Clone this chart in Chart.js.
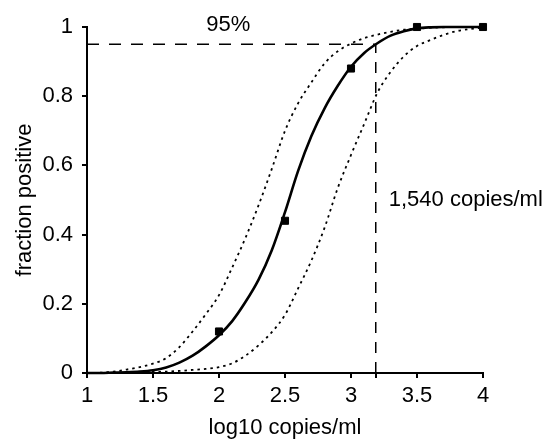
<!DOCTYPE html>
<html>
<head>
<meta charset="utf-8">
<script src="https://cdn.jsdelivr.net/npm/chart.js@4"></script>
<style>
  html, body { margin: 0; padding: 0; background: #fff; }
  canvas { display: block; }
</style>
</head>
<body>
<canvas id="chartProbit" width="542" height="440"></canvas>
<script>
/* ---------- datos ---------- */
const logConc = [1.0, 1.1, 1.2, 1.3, 1.4, 1.5, 1.6, 1.7, 1.8, 1.9,
                 2.0, 2.1, 2.2, 2.3, 2.4, 2.5, 2.6, 2.7, 2.8, 2.9,
                 3.0, 3.1, 3.2, 3.3, 3.4, 3.5, 3.6, 3.7, 3.8, 3.9, 4.0];
const fitMid   = [0.000, 0.000, 0.001, 0.002, 0.004, 0.008, 0.016, 0.030, 0.050, 0.077,
                  0.109, 0.150, 0.205, 0.270, 0.355, 0.465, 0.585, 0.685, 0.765, 0.830,
                  0.885, 0.925, 0.953, 0.975, 0.988, 0.996, 0.999, 1.000, 1.000, 1.000, 1.000];
const fitUpper = [0.000, 0.001, 0.004, 0.010, 0.017, 0.027, 0.043, 0.075, 0.120, 0.170,
                  0.225, 0.305, 0.390, 0.485, 0.590, 0.700, 0.780, 0.840, 0.895, 0.930,
                  0.952, 0.968, 0.978, 0.986, 0.992, 0.995, 0.998, 0.999, 1.000, 1.000, 1.000];
const fitLower = [0.000, 0.000, 0.001, 0.001, 0.002, 0.003, 0.004, 0.006, 0.009, 0.012,
                  0.017, 0.028, 0.050, 0.080, 0.118, 0.168, 0.245, 0.325, 0.420, 0.535,
                  0.630, 0.720, 0.810, 0.870, 0.915, 0.945, 0.962, 0.977, 0.988, 0.994, 0.998];
const obsConc = [2.0, 2.5, 3.0, 3.5, 4.0];
const obsFrac = [0.12, 0.44, 0.88, 1.0, 1.0];
const lodLog = 3.1875;   // log10(1540)
const lodFrac = 0.95;
const xTicks = [1, 1.5, 2, 2.5, 3, 3.5, 4];
const yTicks = [0, 0.2, 0.4, 0.6, 0.8, 1];

const FONT = "Liberation Sans, Arial, sans-serif";
Chart.defaults.font.family = FONT;
Chart.defaults.font.size = 22;
Chart.defaults.color = "#000";

const toPoints = (xs, ys) => xs.map((x, i) => ({ x: x, y: ys[i] }));

const labelsPlugin = {
  id: "labels95",
  afterDatasetsDraw(chart) {
    const { ctx, scales } = chart;
    const sx = scales.x, sy = scales.y;
    ctx.save();
    ctx.font = "22px " + FONT;
    ctx.fillStyle = "#000";
    ctx.textBaseline = "middle";
    ctx.textAlign = "center";
    ctx.fillText("95%", sx.getPixelForValue(2.07), sy.getPixelForValue(lodFrac) - 19);
    ctx.textAlign = "left";
    ctx.fillText("1,540 copies/ml", sx.getPixelForValue(lodLog) + 13, sy.getPixelForValue(0.5));
    ctx.restore();
  }
};

new Chart(document.getElementById("chartProbit"), {
  type: "line",
  data: {
    datasets: [
      {
        data: [{ x: xTicks[0], y: lodFrac }, { x: lodLog, y: lodFrac }],
        borderColor: "#000", borderWidth: 1.5, borderDash: [12, 10],
        pointRadius: 0, fill: false
      },
      {
        data: [{ x: lodLog, y: 0 }, { x: lodLog, y: lodFrac }],
        borderColor: "#000", borderWidth: 1.5, borderDash: [11, 9],
        pointRadius: 0, fill: false
      },
      {
        data: toPoints(logConc, fitUpper),
        borderColor: "#000", borderWidth: 1.8, borderDash: [2.5, 4],
        pointRadius: 0, cubicInterpolationMode: "monotone", fill: false
      },
      {
        data: toPoints(logConc, fitLower),
        borderColor: "#000", borderWidth: 1.8, borderDash: [2.5, 4],
        pointRadius: 0, cubicInterpolationMode: "monotone", fill: false
      },
      {
        data: toPoints(logConc, fitMid),
        borderColor: "#000", borderWidth: 2.6,
        pointRadius: 0, cubicInterpolationMode: "monotone", fill: false
      },
      {
        data: toPoints(obsConc, obsFrac),
        showLine: false,
        pointStyle: "rect", pointRadius: 5, pointBorderWidth: 1,
        pointBackgroundColor: "#000", pointBorderColor: "#000"
      }
    ]
  },
  options: {
    responsive: false,
    animation: false,
    clip: false,
    layout: { padding: { top: 27, right: 59, left: 0, bottom: 0 } },
    plugins: { legend: { display: false }, tooltip: { enabled: false } },
    scales: {
      x: {
        type: "linear",
        min: xTicks[0], max: xTicks[xTicks.length - 1],
        afterBuildTicks: (s) => {
          s.ticks = xTicks.concat([lodLog]).sort((a, b) => a - b).map((v) => ({ value: v }));
        },
        afterFit: (s) => { s.height = 67; },
        ticks: {
          autoSkip: false, maxRotation: 0, padding: 5,
          callback: (v) => (v === lodLog ? "" : String(v))
        },
        grid: { drawOnChartArea: false, drawTicks: true, tickLength: 5, color: "#000", lineWidth: 2 },
        border: { display: true, color: "#000", width: 2 },
        title: { display: true, text: "log10 copies/ml", padding: { top: 0, bottom: -1 } }
      },
      y: {
        type: "linear",
        min: yTicks[0], max: yTicks[yTicks.length - 1],
        afterBuildTicks: (s) => { s.ticks = yTicks.map((v) => ({ value: v })); },
        afterFit: (s) => { s.width = 87; },
        ticks: { padding: 9, callback: (v) => String(v) },
        grid: { drawOnChartArea: false, drawTicks: true, tickLength: 5, color: "#000", lineWidth: 2 },
        border: { display: true, color: "#000", width: 2 },
        title: { display: true, text: "fraction positive", padding: { top: 12, bottom: 0 } }
      }
    }
  },
  plugins: [labelsPlugin]
});
</script>
</body>
</html>
